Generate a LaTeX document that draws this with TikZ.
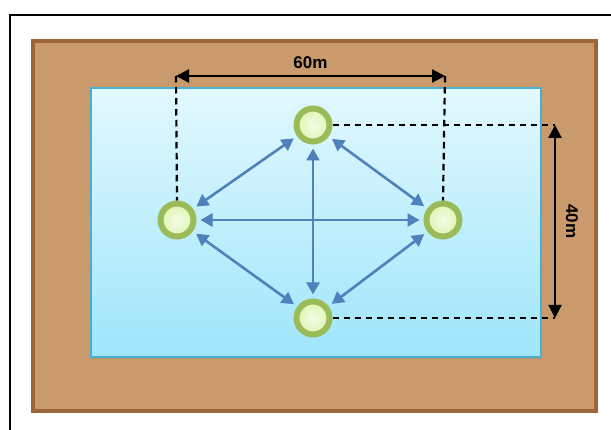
\documentclass[tikz,border=0pt]{standalone}
\usepackage{fontspec}
\setmainfont{Liberation Sans}
\usetikzlibrary{arrows.meta,shadows}

\definecolor{soil}{HTML}{C99A6B}
\definecolor{soilEdge}{HTML}{9C6636}
\definecolor{waterTop}{HTML}{E2F8FE}
\definecolor{waterBottom}{HTML}{9FE6FB}
\definecolor{waterEdge}{HTML}{4BAFD0}
\definecolor{ringGreen}{HTML}{9BBB59}
\definecolor{coreGreen}{HTML}{DDF5B0}
\definecolor{linkBlue}{HTML}{4F81BD}

\begin{document}
\begin{tikzpicture}[x=1pt,y=-1pt,
    dimline/.style={line width=2.2pt,>={Triangle[length=13pt,width=13pt]}},
    guide/.style={line width=2.2pt,dash pattern=on 6.5pt off 4.5pt},
    dimlabel/.style={font=\fontsize{17}{19}\selectfont\bfseries}]
\useasboundingbox (0,0) rectangle (611,430);

% frame, field and pool
\draw[line width=1.8pt] (10,430) -- (10,15) -- (611,15);
\draw[fill=soil,draw=soilEdge,line width=3.5pt] (33,41) rectangle (596,411);
\path[drop shadow={opacity=0.3,shadow xshift=1pt,shadow yshift=-2pt},
      top color=waterTop,bottom color=waterBottom,draw=waterEdge,line width=2pt]
    (91,88) rectangle (541,357);

\begin{scope}[every node/.style={circle,draw=ringGreen,line width=6pt,minimum size=33pt,
              inner color=white!70!coreGreen,outer color=coreGreen,
              drop shadow={opacity=0.35,shadow xshift=1pt,shadow yshift=-2pt}}]
    \node (N) at (313,125) {};
    \node (W) at (177,220) {};
    \node (E) at (443,220) {};
    \node (S) at (313,318) {};
\end{scope}

\begin{scope}[>={Triangle[length=12pt,width=13pt]},
              every edge/.style={draw=linkBlue,line width=2.6pt,shorten <=4pt,shorten >=4pt}]
    \path [<->] (N) edge (W);
    \path [<->] (N) edge (E);
    \path [<->] (W) edge (S);
    \path [<->] (E) edge (S);
    \path [<->] (W) edge (E);
    \path [<->] (N) edge (S);
\end{scope}

% dimensions
\coordinate (w60) at (176,76);
\coordinate (e60) at (445,76);
\coordinate (n40) at (555,125);
\coordinate (s40) at (555,318);
\draw[guide] (w60) -- (W.north);
\draw[guide] (e60) -- (E.north);
\draw[guide] (N.east) -- (n40);
\draw[guide] (S.east) -- (s40);
\draw[dimline,<->] (w60) -- node[dimlabel,above=3pt] {60m} (e60);
\draw[dimline,<->] (n40) -- node[dimlabel,midway,xshift=17pt,rotate=-90] {40m} (s40);
\end{tikzpicture}
\end{document}
